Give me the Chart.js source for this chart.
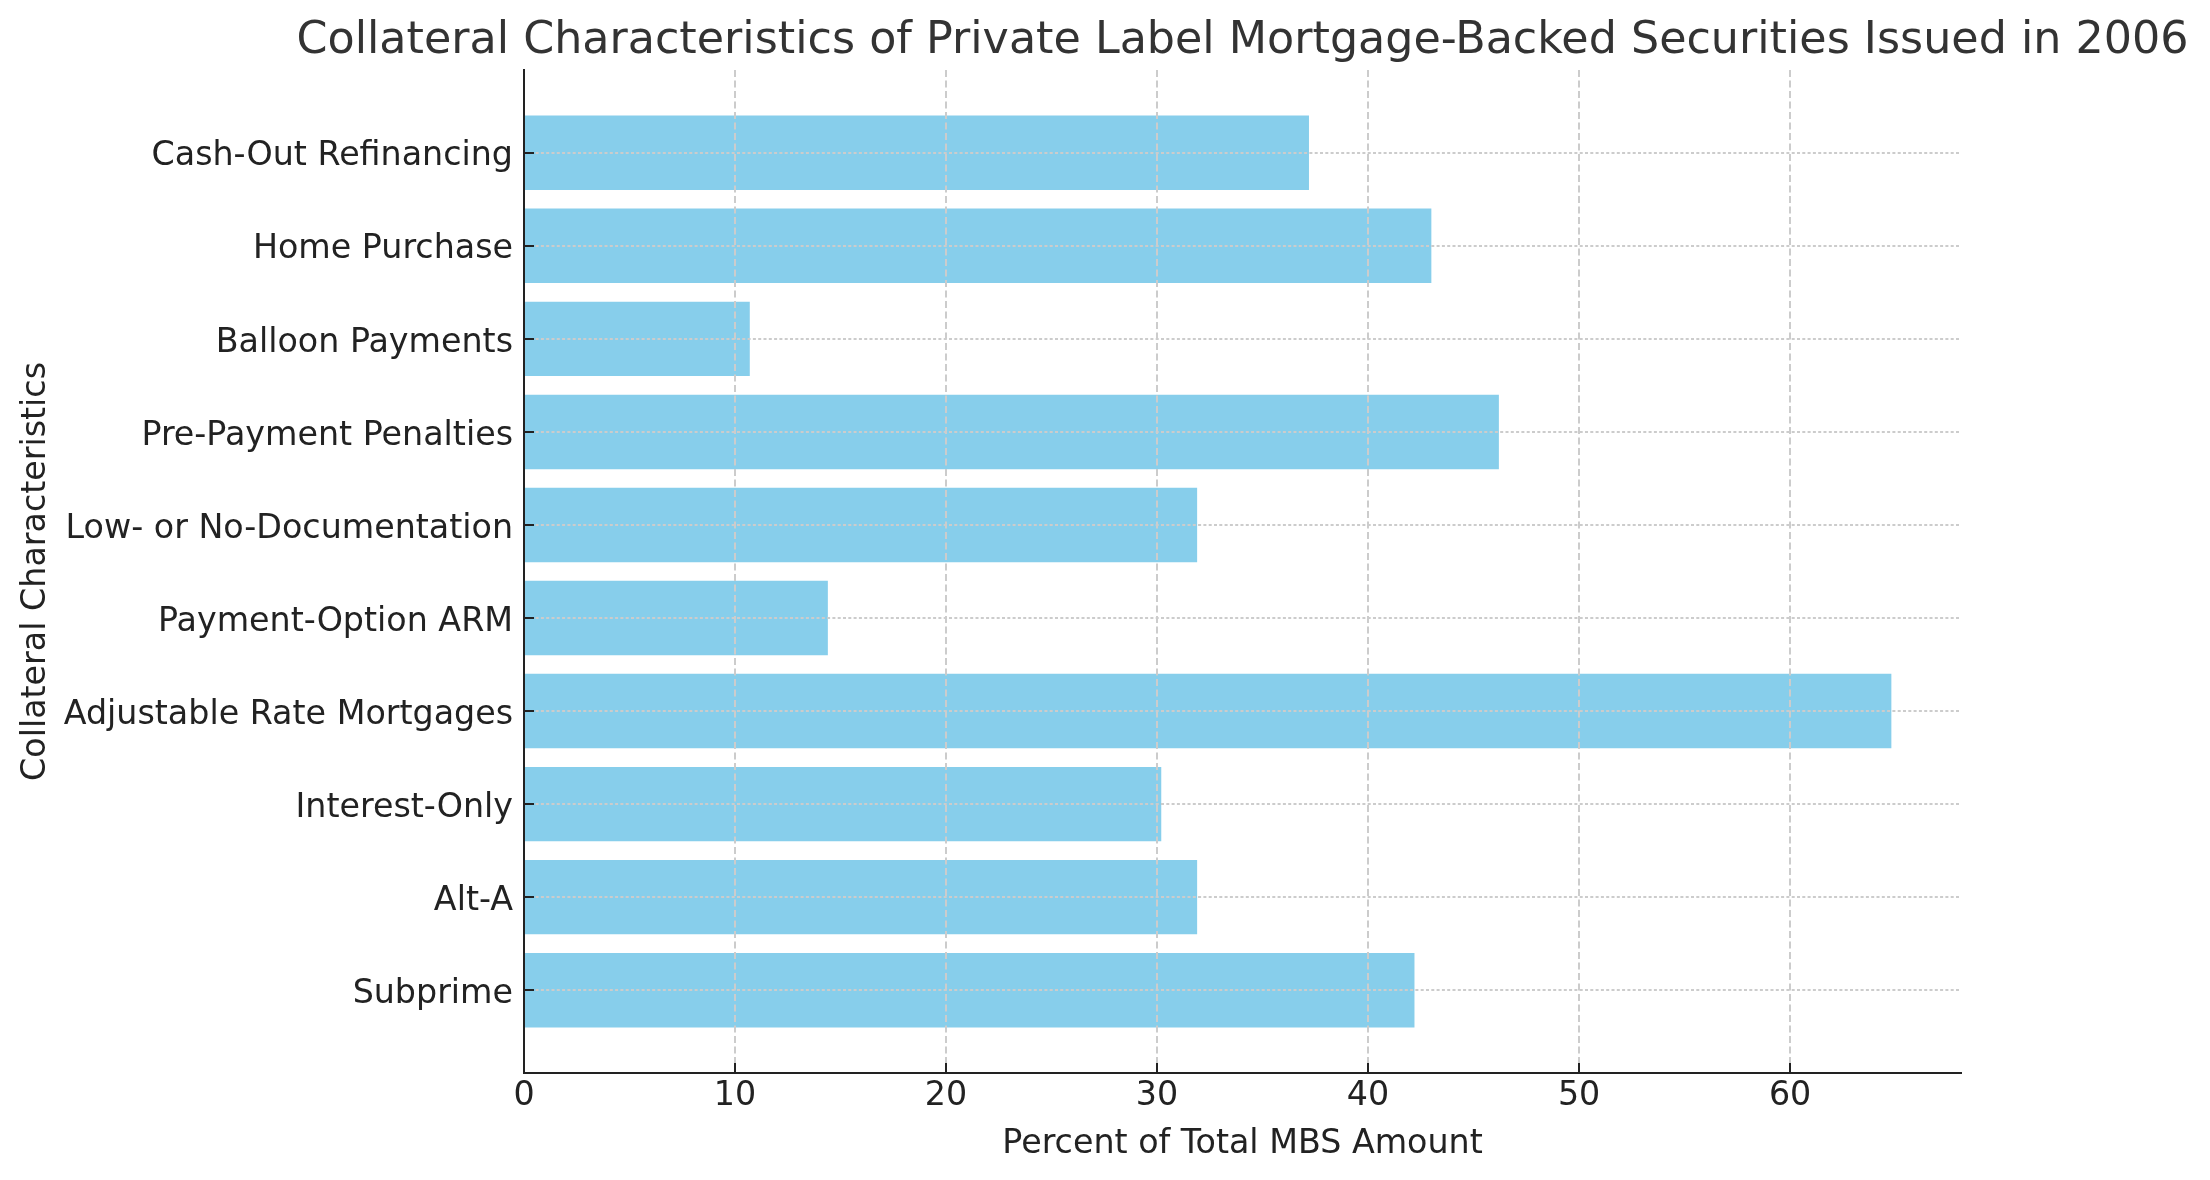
<!DOCTYPE html>
<html>
<head>
<meta charset="utf-8">
<script src="https://cdn.jsdelivr.net/npm/chart.js@4/dist/chart.umd.min.js"></script>
<style>
  html, body { margin: 0; padding: 0; background: #fff; }
  canvas { display: block; }
</style>
</head>
<body>
<canvas id="mbsChart" width="2210" height="1180"></canvas>
<script>
// data, bottom bar first (same order as barh)
const categories = [
  'Subprime',
  'Alt-A',
  'Interest-Only',
  'Adjustable Rate Mortgages',
  'Payment-Option ARM',
  'Low- or No-Documentation',
  'Pre-Payment Penalties',
  'Balloon Payments',
  'Home Purchase',
  'Cash-Out Refinancing'
];
const percents = [42.2, 31.9, 30.2, 64.8, 14.4, 31.9, 46.2, 10.7, 43.0, 37.2];
const xTickValues = [0, 10, 20, 30, 40, 50, 60];

const font = 'DejaVu Sans';
const gridGray = '#cccccc';
const inkDark = '#222222';

// title sits over the plot area but is wider than it, so widen its box
// after layout instead of letting chart.js squeeze it with maxWidth
var wideTitle = {
  id: 'wideTitle',
  afterLayout: function(chart) {
    var area = chart.chartArea;
    var mid = (area.left + area.right) / 2;
    var half = chart.width / 2;
    chart.titleBlock.left = mid - half;
    chart.titleBlock.right = mid + half;
    chart.titleBlock.width = half * 2;
  }
};

var ctx = document.getElementById('mbsChart').getContext('2d');

var chartRef = new Chart(ctx, {
  type: 'bar',
  data: {
    datasets: [{
      data: percents.map(function(v, i) { return {x: v, y: i}; }),
      backgroundColor: '#87CEEB',
      borderWidth: 0,
      categoryPercentage: 1.0,
      barPercentage: 0.8
    }]
  },
  plugins: [wideTitle],
  options: {
    indexAxis: 'y',
    responsive: false,
    animation: false,
    devicePixelRatio: 1,
    layout: { padding: { left: 0, right: 249, top: 0, bottom: 0 } },
    plugins: {
      legend: { display: false },
      tooltip: { enabled: false },
      title: {
        display: true,
        text: 'Collateral Characteristics of Private Label Mortgage-Backed Securities Issued in 2006',
        fullSize: false,
        color: '#333333',
        font: { family: font, size: 44.4, weight: 'normal' },
        padding: { top: 15, bottom: 1.7 }
      }
    },
    scales: {
      x: {
        type: 'linear',
        position: 'bottom',
        min: 0,
        max: 68.1,
        afterBuildTicks: function(scale) {
          scale.ticks = xTickValues.map(function(v) { return {value: v}; });
        },
        afterFit: function(scale) { scale.height = 107; },
        ticks: {
          color: inkDark,
          font: { family: font, size: 33.3 },
          padding: 13.7,
          maxRotation: 0,
          autoSkip: false
        },
        grid: {
          color: gridGray,
          lineWidth: 2,
          tickColor: inkDark,
          tickLength: -10,
          tickWidth: 2,
          z: 1
        },
        border: { display: true, color: inkDark, width: 2, dash: [7, 3.5], z: 1 },
        title: {
          display: true,
          text: 'Percent of Total MBS Amount',
          color: inkDark,
          font: { family: font, size: 33.3 },
          padding: { top: 0, bottom: 16 }
        }
      },
      y: {
        type: 'linear',
        position: 'left',
        min: -0.89,
        max: 9.89,
        offset: false,
        bounds: 'data',
        afterBuildTicks: function(scale) {
          scale.ticks = categories.map(function(c, i) { return {value: i}; });
        },
        afterFit: function(scale) { scale.width = 524; },
        ticks: {
          color: inkDark,
          font: { family: font, size: 33.3 },
          padding: 21,
          labelOffset: 4,
          autoSkip: false,
          callback: function(value) { return categories[value]; }
        },
        grid: {
          offset: false,
          color: gridGray,
          lineWidth: 2,
          tickColor: inkDark,
          tickLength: -10,
          tickWidth: 2,
          z: 1
        },
        border: { display: true, color: inkDark, width: 2, dash: [3, 2.3], z: 1 },
        title: {
          display: true,
          text: 'Collateral Characteristics',
          color: inkDark,
          font: { family: font, size: 33.3 },
          padding: { top: 16, bottom: 0 }
        }
      }
    }
  }
});
</script>
</body>
</html>
